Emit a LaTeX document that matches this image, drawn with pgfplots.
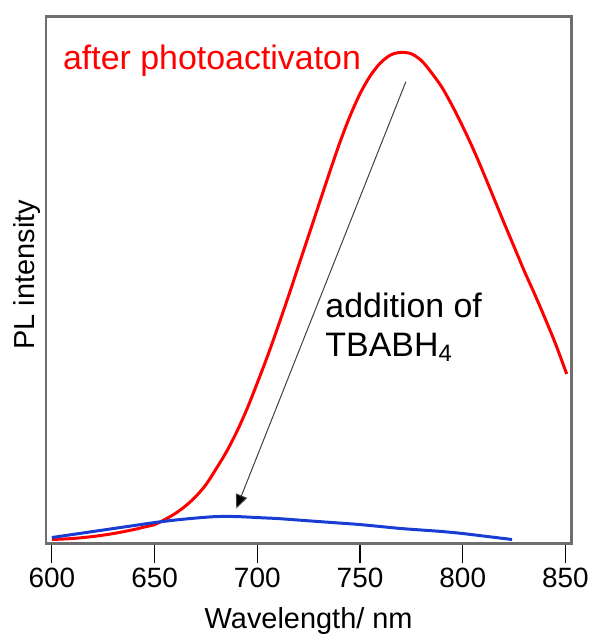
\documentclass[border=0pt]{standalone}
\usepackage{pgfplots}
\pgfplotsset{compat=1.18}
\usepackage{fontspec}
\setmainfont{Liberation Sans}
\usetikzlibrary{arrows.meta}
\definecolor{bordergray}{RGB}{110,110,110}
\definecolor{myblue}{RGB}{25,60,210}
\definecolor{myred}{RGB}{255,0,0}
\begin{document}
\begin{tikzpicture}
\begin{axis}[
  scale only axis=true,
  width=263.5pt, height=264.25pt,
  xmin=597.1, xmax=852.9,
  ymin=0, ymax=528.5,
  axis line style={bordergray, line width=1.2pt},
  xtick={600,650,...,850},
  ytick=\empty,
  xtick pos=bottom,
  tick align=outside,
  major tick length=10pt,
  xtick style={black, line width=0.6pt},
  /pgf/number format/assume math mode=true,
  /pgf/number format/1000 sep={},
  ticklabel style={font=\fontsize{14}{17}\selectfont},
  xticklabel style={anchor=base, yshift=-12pt},
  label style={font=\fontsize{14.5}{17}\selectfont},
  xlabel={Wavelength/ nm},
  ylabel={PL intensity},
  xlabel style={at={(rel axis cs:0.5,-0.161)}, anchor=base},
  ylabel style={at={(rel axis cs:-0.036,0.51)}, anchor=center},
  clip=false,
]
\path (rel axis cs:-0.0873,-0.1816) rectangle (rel axis cs:1.0418,1.0312);
\addplot[myred, line width=1.5pt, smooth] coordinates {
(600,4) (610,5) (620,7) (630,10) (640,14) (645,16.5) (650,19) (655,24)
(660,30) (665,37.5) (670,47) (675,59) (680,75) (685,92) (690,112)
(695,135) (700,161) (705,188) (710,217) (715,247) (720,278) (725,309)
(730,340) (735,371) (740,401) (745,428) (750,451) (755,469) (760,482)
(765,490) (770,492.5) (775,491) (780,484) (785,471.5) (790,457)
(795,438.5) (800,418) (805,396) (810,372) (815,347) (820,322)
(825,297.5) (830,273) (835,250) (840,226) (845,201) (850.6,170)
};
\addplot[myblue, line width=1.5pt, smooth] coordinates {
(600,6) (610,9) (620,12) (630,15) (640,18) (650,21) (660,23.5) (670,25.5)
(680,27) (690,27) (700,26) (710,25) (720,23.5) (730,22) (740,20.5)
(750,19) (760,17) (770,15) (780,13.5) (790,12) (800,10) (810,7.5)
(818,5.5) (824,4)
};
\draw[black!75, line width=0.5pt, -{Triangle[length=7pt,width=6pt,fill=black]}] (axis cs:772.3,463) -- (axis cs:689.8,35);
\node[anchor=base west, text=myred, font=\fontsize{17}{20}\selectfont, inner sep=0pt] at (axis cs:605.3,475) {after photoactivaton};
\node[anchor=base west, font=\fontsize{17}{20}\selectfont, inner sep=0pt] at (axis cs:733,227) {addition of};
\node[anchor=base west, font=\fontsize{17}{20}\selectfont, inner sep=0pt] at (axis cs:733,188) {TBABH\textsubscript{4}};
\end{axis}
\end{tikzpicture}
\end{document}
